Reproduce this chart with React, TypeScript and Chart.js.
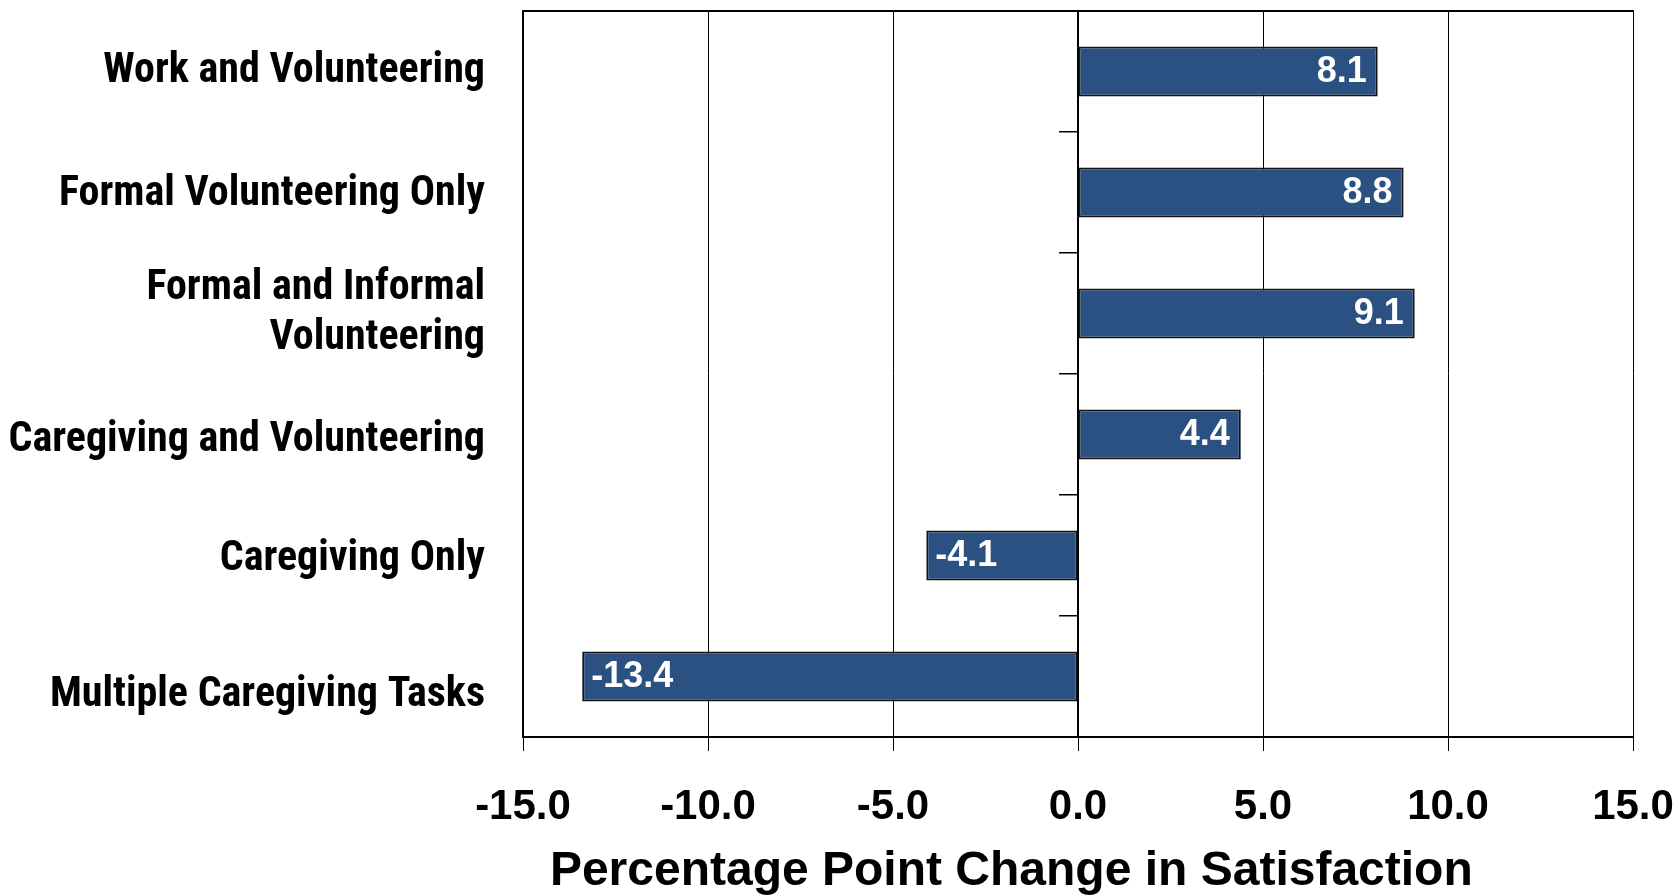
import React, { useEffect, useRef } from "react";
import { Chart, registerables } from "chart.js";

Chart.register(...registerables);

const categories: (string | string[])[] = [
  "Work and Volunteering",
  "Formal Volunteering Only",
  ["Formal and Informal", "Volunteering"],
  "Caregiving and Volunteering",
  "Caregiving Only",
  "Multiple Caregiving Tasks",
];
const changeValues: number[] = [8.1, 8.8, 9.1, 4.4, -4.1, -13.4];
const axisMin = -15;
const axisMax = 15;
const axisStep = 5;
const axisTitle = "Percentage Point Change in Satisfaction";

// small downward nudges (px) of single-line category labels, as in the source image
const labelNudge: number[] = [0, 2, 0, 6, 4, 19];

const BAR_COLOR = "#2a5182";
const SANS = "'Liberation Sans', Arial, Helvetica, sans-serif";
const CONDENSED = "Roboto, 'Open Sans', sans-serif";

const valueLabels = {
  id: "valueLabels",
  afterDatasetsDraw(chart: any) {
    const ctx = chart.ctx;
    const meta = chart.getDatasetMeta(0);
    ctx.save();
    ctx.font = `bold 36px ${SANS}`;
    ctx.fillStyle = "#ffffff";
    ctx.textBaseline = "middle";
    meta.data.forEach((bar: any, i: number) => {
      const v = changeValues[i];
      const txt = v.toFixed(1);
      if (v >= 0) {
        ctx.textAlign = "right";
        ctx.fillText(txt, bar.x - 11, bar.y + 1);
      } else {
        ctx.textAlign = "left";
        ctx.fillText(txt, bar.x + 9, bar.y + 1);
      }
    });
    ctx.restore();
  },
};

export default function App() {
  const ref = useRef<HTMLCanvasElement | null>(null);

  useEffect(() => {
    if (!ref.current) return;
    const chart = new Chart(ref.current, {
      type: "bar",
      data: {
        labels: categories as any,
        datasets: [
          {
            data: changeValues,
            backgroundColor: BAR_COLOR,
            borderColor: "#141414",
            borderWidth: 2,
            borderSkipped: false,
            barPercentage: 0.415,
            categoryPercentage: 1,
          },
        ],
      },
      options: {
        indexAxis: "y",
        animation: false,
        responsive: false,
        events: [],
        layout: { padding: { top: 11, right: 47, bottom: 0, left: 0 } },
        plugins: {
          legend: { display: false },
          tooltip: { enabled: false },
          title: { display: false },
        },
        scales: {
          x: {
            type: "linear",
            position: "bottom",
            min: axisMin,
            max: axisMax,
            ticks: {
              stepSize: axisStep,
              color: "#000",
              font: { family: SANS, size: 42, weight: "bold", lineHeight: 1.2 },
              padding: 31,
              maxRotation: 0,
              callback: (v: any) => Number(v).toFixed(1),
            },
            grid: { color: "#000", lineWidth: 1, tickLength: 14, drawTicks: true },
            border: { display: true, color: "#000", width: 2 },
            title: {
              display: true,
              text: axisTitle + "\u00a0".repeat(10),
              color: "#000",
              font: { family: SANS, size: 48, weight: "bold", lineHeight: 1.0 },
              padding: { top: 10, bottom: 0 },
            },
            afterFit: (scale: any) => {
              scale.height = 159;
              scale.paddingLeft = 0;
              scale.paddingRight = 0;
            },
          },
          xTop: {
            type: "linear",
            position: "top",
            min: axisMin,
            max: axisMax,
            ticks: { display: false },
            grid: { display: false },
            border: { display: true, color: "#000", width: 2 },
            afterFit: (scale: any) => {
              scale.height = 0;
              scale.paddingLeft = 0;
              scale.paddingRight = 0;
            },
          },
          y: {
            type: "category",
            position: "left",
            offset: true,
            ticks: {
              color: "#000",
              font: (c: any) => {
                const n = labelNudge[c.index] || 0;
                return {
                  family: CONDENSED,
                  size: 42,
                  weight: "bold condensed",
                  lineHeight: n > 0 ? `${2 * n}px` : 1.2,
                };
              },
              padding: 30,
              callback: function (this: any, value: any, index: number) {
                const lbl = this.getLabelForValue(value);
                if (Array.isArray(lbl)) return lbl;
                return (labelNudge[index] || 0) > 0 ? ["", lbl] : lbl;
              },
            },
            grid: { display: false, offset: true },
            border: { display: true, color: "#000", width: 2 },
            afterFit: (scale: any) => {
              scale.width = 523;
              scale.paddingTop = 0;
              scale.paddingBottom = 0;
            },
          },
          yZero: {
            type: "category",
            position: { x: 0 } as any,
            offset: true,
            ticks: { display: false },
            grid: {
              display: true,
              offset: true,
              drawOnChartArea: false,
              drawTicks: true,
              tickLength: 18,
              color: "#000",
              lineWidth: 1.5,
            },
            border: { display: true, color: "#000", width: 2 },
            afterFit: (scale: any) => {
              scale.paddingTop = 0;
              scale.paddingBottom = 0;
            },
          },
        },
      },
      plugins: [valueLabels],
    });
    return () => chart.destroy();
  }, []);

  return (
    <canvas
      ref={ref}
      width={1680}
      height={896}
      style={{ position: "absolute", left: 0, top: 0, display: "block", background: "#fff" }}
    />
  );
}
